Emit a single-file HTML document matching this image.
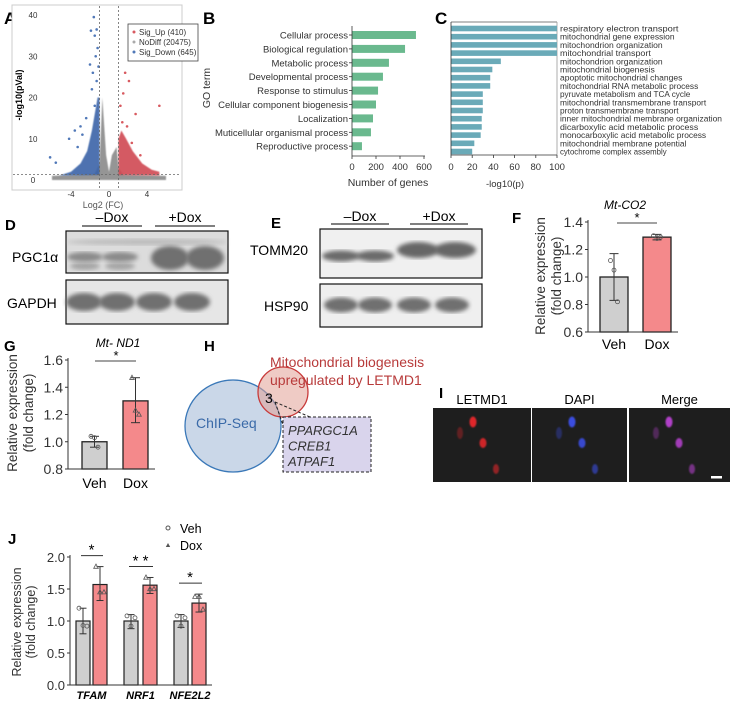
<!DOCTYPE html>
<html><head><meta charset="utf-8">
<style>
html,body{margin:0;padding:0;background:#fff;}
svg{display:block;font-family:"Liberation Sans",Arial,sans-serif;}
</style></head>
<body>
<svg id="fig" width="733" height="715" viewBox="0 0 733 715" xmlns="http://www.w3.org/2000/svg">
<defs>
<filter id="blur1"><feGaussianBlur stdDeviation="2"/></filter>
<filter id="blur05"><feGaussianBlur stdDeviation="0.6"/></filter>
<filter id="blur08"><feGaussianBlur stdDeviation="0.9"/></filter>
</defs>
<g id="pA"></g>
<g id="pB"></g>
<g id="pC"></g>
<g id="pD"></g>
<g id="pE"></g>
<g id="pF"></g>
<g id="pG"></g>
<g id="pH"></g>
<g id="pI"></g>
<g id="pJ"></g>
</svg>
<script>
// ---------- DATA ----------
const volcanoLegend = ["Sig_Up (410)","NoDiff (20475)","Sig_Down (645)"];
const volcanoXTicks = [-4,0,4];
const volcanoYTicks = [0,10,20,30,40];
const volcanoGrayCloud = [[-6,0],[-6,1],[-1.5,1.5],[-1,4],[-0.7,20],[-0.3,6],[0,2],[0.3,6],[0.8,8],[1,3],[1.5,1.3],[6,1],[6,0]];
const volcanoBlueCloud = [[-5.2,1.1],[-4,2],[-3,4],[-2.3,7],[-1.8,12],[-1.5,16],[-1.2,20],[-1,20],[-1,1.2]];
const volcanoRedCloud = [[1,1.2],[1,10],[1.3,12],[1.8,10],[2.5,7],[3.5,4],[4.5,2.5],[5.3,2],[5.3,1.1]];
const blueOutX = [-1.6,-1.3,-1.5,-1.9,-1.2,-1.4,-2.0,-1.7,-1.1,-1.3,-2.4,-3.0,-3.6,-4.2,-6.2,-5.6,-2.8,-3.3,-1.8,-1.5];
const blueOutY = [39.5,36.5,35,36.2,32,30,28,26,27.5,24,15,13,12,10,5.5,4.2,11,8,22,18];
const redOutX = [1.7,2.1,1.5,2.8,5.3,1.4,1.9,3.3,2.4,1.2];
const redOutY = [26,24,21,16,18,14,13,6,9,18];
const goTerms = ["Cellular process","Biological regulation","Metabolic process","Developmental process","Response to stimulus","Cellular component biogenesis","Localization","Muticellular organismal process","Reproductive process"];
const goCounts = [533,442,308,258,217,200,175,158,83];
const goTicks = [0,200,400,600];
const enrichTerms = ["respiratory electron transport","mitochondrial gene expression","mitochondrion organization","mitochondrial transport","mitochondrion organization","mitochondrial biogenesis","apoptotic mitochondrial changes","mitochondrial RNA metabolic process","pyruvate metabolism and TCA cycle","mitochondrial transmembrane transport","proton transmembrane transport","inner mitochondrial membrane organization","dicarboxylic acid metabolic process","monocarboxylic acid metabolic process","mitochondrial membrane potential","cytochrome complex assembly"];
const enrichVals = [100,100,100,100,47,39,37,37,30,30,30,29,29,28,22,20];
const enrichTicks = [0,20,40,60,80,100];
const fGroups = ["Veh","Dox"];
const fMeans = [1.0,1.29];
const fErrLo = [0.83,1.27];
const fErrHi = [1.17,1.31];
const fPoints = [[1.12,1.05,0.82],[1.30,1.28,1.29]];
const fTicks = [0.6,0.8,1.0,1.2,1.4];
const gGroups = ["Veh","Dox"];
const gMeans = [1.0,1.30];
const gErrLo = [0.96,1.14];
const gErrHi = [1.04,1.47];
const gPoints = [[1.04,1.03,0.96],[1.47,1.23,1.20]];
const gTicks = [0.8,1.0,1.2,1.4,1.6];
const jGenes = ["TFAM","NRF1","NFE2L2"];
const jVeh = [1.0,1.0,1.0];
const jVehLo = [0.8,0.88,0.9];
const jVehHi = [1.2,1.1,1.1];
const jVehPts = [[1.2,0.93,0.92],[1.08,0.92,1.05],[1.08,0.92,1.05]];
const jDox = [1.57,1.56,1.28];
const jDoxLo = [1.32,1.43,1.14];
const jDoxHi = [1.85,1.68,1.42];
const jDoxPts = [[1.85,1.45,1.45],[1.68,1.50,1.50],[1.38,1.38,1.18]];
const jSig = ["*","**","*"];
const jTicks = [0.0,0.5,1.0,1.5,2.0];

// ---------- helpers ----------
const NS="http://www.w3.org/2000/svg";
function mk(parent,tag,attrs,text){const e=document.createElementNS(NS,tag);for(const k in attrs)e.setAttribute(k,attrs[k]);if(text!==undefined)e.textContent=text;parent.appendChild(e);return e;}
function lin(d0,d1,r0,r1){return v=>r0+(v-d0)/(d1-d0)*(r1-r0);}

// ---------- Panel A ----------
(function(){
const g=document.getElementById('pA');
const x=lin(0,4,109,147), y=lin(0,40,180,15);
let t=mk(g,'text',{x:4,y:24,'font-size':17,'font-weight':'bold'},'A');

let r=mk(g,'rect',{x:12,y:5,width:170,height:185,fill:'#fff',stroke:'#ccc','stroke-width':1});

const poly=(pts,col,name)=>{const p=mk(g,'polygon',{points:pts.map(p=>x(p[0])+','+y(p[1])).join(' '),fill:col,opacity:0.9,filter:'url(#blur05)'});};
poly(volcanoGrayCloud,'#8a8a8a','nodiff-cloud');
poly(volcanoBlueCloud,'#3a64a8','sig-down-cloud');
poly(volcanoRedCloud,'#d04a52','sig-up-cloud');
blueOutX.forEach((v,i)=>{const c=mk(g,'circle',{cx:x(v),cy:y(blueOutY[i]),r:1.3,fill:'#5078b8'});});
redOutX.forEach((v,i)=>{const c=mk(g,'circle',{cx:x(v),cy:y(redOutY[i]),r:1.3,fill:'#d85a60'});});
[[-1],[1]].forEach(v=>{const l=mk(g,'line',{x1:x(v[0]),x2:x(v[0]),y1:6,y2:189,stroke:'#666','stroke-dasharray':'2,2','stroke-width':0.8});});
let hl=mk(g,'line',{x1:13,x2:181,y1:y(1.3),y2:y(1.3),stroke:'#666','stroke-dasharray':'2,2','stroke-width':0.8});
volcanoXTicks.forEach(v=>{const tt=mk(g,'text',{x:x(v),y:197,'font-size':8,'text-anchor':'middle',fill:'#333'},String(v));});
volcanoYTicks.forEach(v=>{const tt=mk(g,'text',{x:33,y:y(v)+3,'font-size':8,'text-anchor':'middle',fill:'#333'},String(v));});
let yl=mk(g,'text',{x:0,y:0,'font-size':9,'font-weight':'bold','text-anchor':'middle',transform:'translate(22,95) rotate(-90)'},'-log10(pVal)');
let xl=mk(g,'text',{x:103,y:208,'font-size':9,'text-anchor':'middle',fill:'#555'},'Log2 (FC)');
let lb=mk(g,'rect',{x:128,y:24,width:70,height:37,fill:'#fff',stroke:'#444','stroke-width':0.8});
const lc=['#d85a60','#aaaaaa','#5078b8'];
volcanoLegend.forEach((s,i)=>{const c=mk(g,'circle',{cx:134,cy:32+i*10,r:1.5,fill:lc[i]});const tt=mk(g,'text',{x:139,y:35+i*10,'font-size':8,fill:'#333'},s);});
})();

// ---------- Panel B ----------
(function(){
const g=document.getElementById('pB');
const x=lin(0,600,352,424);
let t=mk(g,'text',{x:203,y:24,'font-size':17,'font-weight':'bold'},'B');
goTerms.forEach((s,i)=>{const cy=35+i*13.9;
const b=mk(g,'rect',{x:352,y:cy-4,width:x(goCounts[i])-352,height:8,fill:'#6ab98e'});
const tk=mk(g,'line',{x1:349,x2:352,y1:cy,y2:cy,stroke:'#333','stroke-width':0.8});
const tt=mk(g,'text',{x:348,y:cy+3.5,'font-size':9.5,'text-anchor':'end',fill:'#333'},s);});
let a=mk(g,'line',{x1:352,x2:352,y1:26,y2:156,stroke:'#333','stroke-width':0.8});
let ax=mk(g,'line',{x1:352,x2:425,y1:156,y2:156,stroke:'#333','stroke-width':0.8});
goTicks.forEach(v=>{const tk=mk(g,'line',{x1:x(v),x2:x(v),y1:156,y2:159,stroke:'#333','stroke-width':0.8});const tt=mk(g,'text',{x:x(v),y:170,'font-size':9.5,'text-anchor':'middle',fill:'#333'},String(v));});
let xl=mk(g,'text',{x:388,y:186,'font-size':10.5,'text-anchor':'middle',fill:'#333'},'Number of genes');
let yl=mk(g,'text',{x:0,y:0,'font-size':10.5,'text-anchor':'middle',fill:'#333',transform:'translate(210,88) rotate(-90)'},'GO term');
})();

// ---------- Panel C ----------
(function(){
const g=document.getElementById('pC');
const x=lin(0,100,451,557);
let t=mk(g,'text',{x:435,y:24,'font-size':17,'font-weight':'bold'},'C');
let top=mk(g,'line',{x1:451,x2:557,y1:22,y2:22,stroke:'#999','stroke-width':1.2});
let rb=mk(g,'line',{x1:557,x2:557,y1:22,y2:155,stroke:'#999','stroke-width':0.8});
enrichTerms.forEach((s,i)=>{const cy=28.5+i*8.2;
const b=mk(g,'rect',{x:451,y:cy-2.8,width:x(enrichVals[i])-451,height:5.6,fill:'#6aaab8'});
const tt=mk(g,'text',{x:560,y:cy+3,'font-size':8.6,fill:'#333',textLength:Math.min(s.length*3.95,173),lengthAdjust:'spacingAndGlyphs'},s);});
let a=mk(g,'line',{x1:451,x2:451,y1:22,y2:155,stroke:'#333','stroke-width':0.8});
let ax=mk(g,'line',{x1:451,x2:557,y1:155,y2:155,stroke:'#333','stroke-width':0.8});
enrichTicks.forEach(v=>{const tk=mk(g,'line',{x1:x(v),x2:x(v),y1:155,y2:158,stroke:'#333','stroke-width':0.8});const tt=mk(g,'text',{x:x(v),y:170,'font-size':9.5,'text-anchor':'middle',fill:'#333'},String(v));});
let xl=mk(g,'text',{x:505,y:187,'font-size':9.5,'text-anchor':'middle',fill:'#333'},'-log10(p)');
})();

// ---------- Blots ----------
function band(g,cx,cy,w,h,col,name){const e=mk(g,'ellipse',{cx:cx,cy:cy,rx:w/2,ry:h/2,fill:col,filter:'url(#blur1)'});}
(function(){
const g=document.getElementById('pD');
let t=mk(g,'text',{x:5,y:230,'font-size':15,'font-weight':'bold'},'D');
[['–Dox',82,142],['+Dox',155,215]].forEach(a=>{const tt=mk(g,'text',{x:(a[1]+a[2])/2,y:222,'font-size':14,'text-anchor':'middle'},a[0]);const l=mk(g,'line',{x1:a[1],x2:a[2],y1:226,y2:226,stroke:'#000','stroke-width':1});});
let b1=mk(g,'rect',{x:66,y:231,width:162,height:42,fill:'#dcdcdc',stroke:'#111','stroke-width':1.2});
band(g,147,242,160,6,'#bbb','pgc1a-upper-band');
[85,120].forEach(cx=>band(g,cx,257,36,10,'#8a8a8a','pgc1a-band-minus'));
[85,120].forEach(cx=>band(g,cx,266,30,8,'#a5a5a5','pgc1a-lower-band'));
[170,205].forEach(cx=>band(g,cx,258,38,24,'#6f6f6f','pgc1a-band-plus'));
let b2=mk(g,'rect',{x:66,y:280,width:162,height:44,fill:'#e6e6e6',stroke:'#111','stroke-width':1.2});
[84,117,154,192].forEach(cx=>band(g,cx,302,36,18,'#707070','gapdh-band'));
let l1=mk(g,'text',{x:12,y:262,'font-size':14},'PGC1α');
let l2=mk(g,'text',{x:7,y:308,'font-size':14},'GAPDH');
})();
(function(){
const g=document.getElementById('pE');
let t=mk(g,'text',{x:271,y:228,'font-size':15,'font-weight':'bold'},'E');
[['–Dox',331,389],['+Dox',410,468]].forEach(a=>{const tt=mk(g,'text',{x:(a[1]+a[2])/2,y:221,'font-size':14,'text-anchor':'middle'},a[0]);const l=mk(g,'line',{x1:a[1],x2:a[2],y1:224,y2:224,stroke:'#000','stroke-width':1});});
let b1=mk(g,'rect',{x:320,y:229,width:162,height:49,fill:'#f0f0f0',stroke:'#111','stroke-width':1.2});
[341,375].forEach(cx=>band(g,cx,256,38,11,'#6a6a6a','tomm20-band'));
[418,455].forEach(cx=>band(g,cx,250,42,16,'#666','tomm20-band'));
let b2=mk(g,'rect',{x:320,y:284,width:162,height:43,fill:'#efefef',stroke:'#111','stroke-width':1.2});
[341,375,414,452].forEach(cx=>band(g,cx,305,34,15,'#707070','hsp90-band'));
let l1=mk(g,'text',{x:250,y:255,'font-size':14},'TOMM20');
let l2=mk(g,'text',{x:264,y:311,'font-size':14},'HSP90');
})();

// ---------- bar+dot charts ----------
function barPanel(g,opt){
const y=lin(opt.t0,opt.t1,opt.y0,opt.y1);
const base=opt.y0;
opt.means.forEach((m,i)=>{const bx=opt.bx[i],bw=opt.bw;
const b=mk(g,'rect',{x:bx,y:y(m),width:bw,height:base-y(m),fill:opt.cols[i],stroke:'#222','stroke-width':1.3});
const cx=bx+bw/2;
const e=mk(g,'line',{x1:cx,x2:cx,y1:y(opt.lo[i]),y2:y(opt.hi[i]),stroke:'#333','stroke-width':1});
[opt.lo[i],opt.hi[i]].forEach(v=>{const c=mk(g,'line',{x1:cx-4.5,x2:cx+4.5,y1:y(v),y2:y(v),stroke:'#333','stroke-width':1});});
opt.pts[i].forEach((v,k)=>{const px=cx+(k-1)*3.5;
const sh=opt.tri&&i==1?mk(g,'polygon',{points:`${px},${y(v)-2.5} ${px-2.3},${y(v)+1.7} ${px+2.3},${y(v)+1.7}`,fill:'none',stroke:'#555','stroke-width':0.8}):mk(g,'circle',{cx:px,cy:y(v),r:2,fill:'none',stroke:'#555','stroke-width':0.8});});
const lt=mk(g,'text',{x:cx,y:base+opt.lblOff,'font-size':14,'text-anchor':'middle'},opt.groups[i]);
});
const ax=mk(g,'line',{x1:opt.ax,x2:opt.ax,y1:opt.y1-2,y2:base,stroke:'#333','stroke-width':1});
const xa=mk(g,'line',{x1:opt.ax,x2:opt.axEnd,y1:base,y2:base,stroke:'#333','stroke-width':1});
opt.ticks.forEach(v=>{const tk=mk(g,'line',{x1:opt.ax-3,x2:opt.ax,y1:y(v),y2:y(v),stroke:'#333','stroke-width':1});const tt=mk(g,'text',{x:opt.ax-5,y:y(v)+5,'font-size':14,'text-anchor':'end',fill:'#333'},v.toFixed(1));});
const y1t=mk(g,'text',{x:0,y:0,'font-size':13.5,'text-anchor':'middle',fill:'#333',transform:`translate(${opt.ylx},${opt.ylc}) rotate(-90)`},'Relative expression');
const y2t=mk(g,'text',{x:0,y:0,'font-size':13.5,'text-anchor':'middle',fill:'#333',transform:`translate(${opt.ylx+16},${opt.ylc}) rotate(-90)`},'(fold change)');
return y;
}
(function(){
const g=document.getElementById('pF');
let t=mk(g,'text',{x:512,y:223,'font-size':15,'font-weight':'bold'},'F');
let ti=mk(g,'text',{x:625,y:209,'font-size':12,'font-style':'italic','text-anchor':'middle'},'Mt-CO2');
barPanel(g,{groups:fGroups,means:fMeans,lo:fErrLo,hi:fErrHi,pts:fPoints,ticks:fTicks,t0:0.6,t1:1.4,y0:332,y1:222,bx:[600,643],bw:28,cols:['#cfcfcf','#f4898b'],ax:588,axEnd:678,lblOff:17,ylx:545,ylc:276,tri:false});
let s=mk(g,'line',{x1:617,x2:657,y1:223,y2:223,stroke:'#444'});
let st=mk(g,'text',{x:637,y:222,'font-size':13,'text-anchor':'middle'},'*');
})();
(function(){
const g=document.getElementById('pG');
let t=mk(g,'text',{x:4,y:351,'font-size':15,'font-weight':'bold'},'G');
let ti=mk(g,'text',{x:118,y:347,'font-size':12,'font-style':'italic','text-anchor':'middle'},'Mt- ND1');
barPanel(g,{groups:gGroups,means:gMeans,lo:gErrLo,hi:gErrHi,pts:gPoints,ticks:gTicks,t0:0.8,t1:1.6,y0:469,y1:360,bx:[82,123],bw:25,cols:['#cfcfcf','#f4898b'],ax:68,axEnd:155,lblOff:19,ylx:17,ylc:413,tri:true});
let s=mk(g,'line',{x1:95,x2:136,y1:361,y2:361,stroke:'#444'});
let st=mk(g,'text',{x:116,y:360,'font-size':13,'text-anchor':'middle'},'*');
})();

// ---------- Panel H ----------
(function(){
const g=document.getElementById('pH');
let t=mk(g,'text',{x:204,y:351,'font-size':15,'font-weight':'bold'},'H');
let b=mk(g,'ellipse',{cx:233,cy:426,rx:48,ry:46,fill:'#cad7e8',stroke:'#3a78b8','stroke-width':1.3});
let r=mk(g,'ellipse',{cx:283,cy:392,rx:25,ry:25,fill:'rgba(225,160,150,0.55)',stroke:'#c83a3a','stroke-width':1.3});
let bx=mk(g,'rect',{x:283,y:417,width:88,height:55,fill:'#d9d4ec',stroke:'#222','stroke-width':1,'stroke-dasharray':'3,2'});
let c1=mk(g,'line',{x1:275,x2:310,y1:402,y2:417,stroke:'#222','stroke-dasharray':'3,2'});
let c2=mk(g,'line',{x1:275,x2:283,y1:402,y2:425,stroke:'#222','stroke-dasharray':'3,2'});
let n=mk(g,'text',{x:265,y:403,'font-size':14},'3');
['PPARGC1A','CREB1','ATPAF1'].forEach((s,i)=>{const tt=mk(g,'text',{x:288,y:435+i*15.5,'font-size':13,'font-style':'italic',fill:'#333'},s);});
let cs=mk(g,'text',{x:196,y:428,'font-size':14,fill:'#3a6aa8'},'ChIP-Seq');
let m1=mk(g,'text',{x:270,y:367,'font-size':14,fill:'#b83a3a'},'Mitochondrial biogenesis');
let m2=mk(g,'text',{x:270,y:385,'font-size':14,fill:'#b83a3a'},'upregulated by LETMD1');
})();

// ---------- Panel I ----------
(function(){
const g=document.getElementById('pI');
let t=mk(g,'text',{x:439,y:398,'font-size':15,'font-weight':'bold'},'I');
const names=['LETMD1','DAPI','Merge'], xs=[433,532,629], ws=[98,95,101], cols=['#e0282c','#3a4ee0','#b040c8'];
xs.forEach((x0,i)=>{const r=mk(g,'rect',{x:x0,y:408,width:ws[i],height:74,fill:'#1e1e1e'});
const tt=mk(g,'text',{x:x0+ws[i]/2,y:404,'font-size':13,'text-anchor':'middle'},names[i]);
[[40,14,3.5,5.5,1],[50,35,3.5,5,0.9],[63,61,3,5,0.6],[27,25,3,6,0.35]].forEach(c=>{const e=mk(g,'ellipse',{cx:x0+c[0],cy:408+c[1],rx:c[2],ry:c[3],fill:cols[i],opacity:c[4],filter:'url(#blur08)'});});});
let sb=mk(g,'rect',{x:711,y:476,width:11,height:2.5,fill:'#fff'});
})();

// ---------- Panel J ----------
(function(){
const g=document.getElementById('pJ');
let t=mk(g,'text',{x:8,y:544,'font-size':15,'font-weight':'bold'},'J');
const y=lin(0,2,685,557);
const vx=[76,124,174], dx=[93,143,192], bw=14;
jGenes.forEach((gn,i)=>{
[[vx[i],jVeh[i],jVehLo[i],jVehHi[i],jVehPts[i],'#cfcfcf',false,'veh'],[dx[i],jDox[i],jDoxLo[i],jDoxHi[i],jDoxPts[i],'#f4898b',true,'dox']].forEach(s=>{
const b=mk(g,'rect',{x:s[0],y:y(s[1]),width:bw,height:685-y(s[1]),fill:s[5],stroke:'#222','stroke-width':1.2});
const cx=s[0]+bw/2;
const e=mk(g,'line',{x1:cx,x2:cx,y1:y(s[2]),y2:y(s[3]),stroke:'#333'});
[s[2],s[3]].forEach(v=>{const c=mk(g,'line',{x1:cx-3.5,x2:cx+3.5,y1:y(v),y2:y(v),stroke:'#333'});});
s[4].forEach((v,k)=>{const px=cx+(k-1)*4;const sh=s[6]?mk(g,'polygon',{points:`${px},${y(v)-2.5} ${px-2.3},${y(v)+1.7} ${px+2.3},${y(v)+1.7}`,fill:'none',stroke:'#555','stroke-width':0.8}):mk(g,'circle',{cx:px,cy:y(v),r:2,fill:'none',stroke:'#555','stroke-width':0.8});});
});
const top=y(Math.max(jDoxHi[i],jVehHi[i]))-11;
const sl=mk(g,'line',{x1:vx[i]+5,x2:dx[i]+10,y1:top,y2:top,stroke:'#333'});
const st=mk(g,'text',{x:(vx[i]+dx[i]+bw)/2,y:top-1,'font-size':15,'text-anchor':'middle'},jSig[i].split('').join(' '));
const lt=mk(g,'text',{x:(vx[i]+dx[i]+bw)/2,y:699,'font-size':11,'font-weight':'bold','font-style':'italic','text-anchor':'middle'},gn);
});
const ax=mk(g,'line',{x1:70,x2:70,y1:555,y2:685,stroke:'#333'});
const xa=mk(g,'line',{x1:70,x2:212,y1:685,y2:685,stroke:'#333'});
jTicks.forEach(v=>{const tk=mk(g,'line',{x1:67,x2:70,y1:y(v),y2:y(v),stroke:'#333'});const tt=mk(g,'text',{x:65,y:y(v)+5,'font-size':13,'text-anchor':'end',fill:'#333'},v.toFixed(1));});
const y1t=mk(g,'text',{x:0,y:0,'font-size':12.5,'text-anchor':'middle',fill:'#333',transform:'translate(21,622) rotate(-90)'},'Relative expression');
const y2t=mk(g,'text',{x:0,y:0,'font-size':12.5,'text-anchor':'middle',fill:'#333',transform:'translate(35,622) rotate(-90)'},'(fold change)');
const lc=mk(g,'circle',{cx:168,cy:528,r:2,fill:'none',stroke:'#555'});
const lv=mk(g,'text',{x:180,y:533,'font-size':12.5},'Veh');
const ltr=mk(g,'polygon',{points:'168,543 165.8,547 170.2,547',fill:'#555'});
const ld=mk(g,'text',{x:180,y:550,'font-size':12.5},'Dox');
})();
</script>
</body></html>
